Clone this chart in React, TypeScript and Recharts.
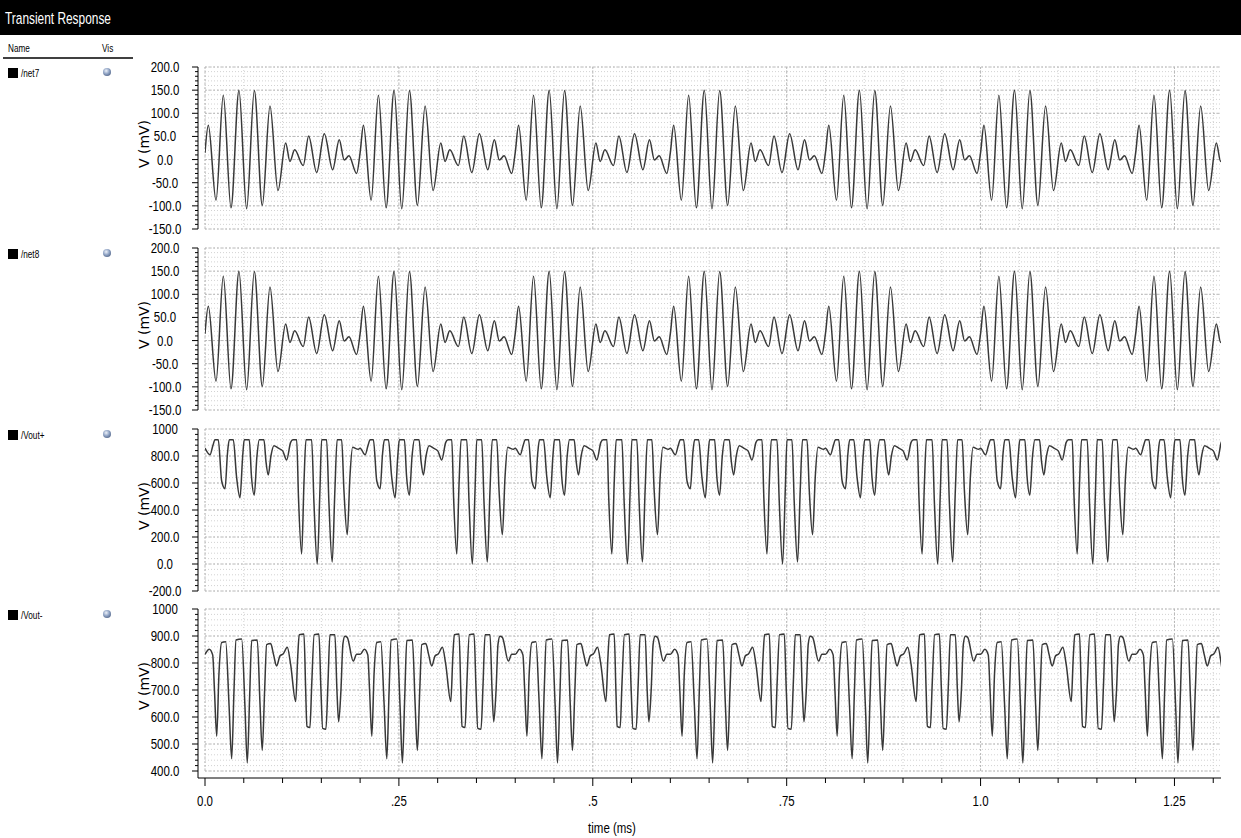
import { CartesianGrid, Line, LineChart, XAxis, YAxis } from 'recharts';

// the traces repeat every 0.2 ms; one period of each is read off the picture
// (offset in ms inside the period, value in mV) and laid down at each start below
const periodStartsMs = [0, 0.2, 0.4, 0.6, 0.8, 1.0, 1.2];

const net7TimeMs = [0, 0.0043, 0.0142, 0.0236, 0.0335, 0.0438, 0.0537, 0.0636, 0.0739, 0.0838, 0.0941, 0.104, 0.1095, 0.1156, 0.1267, 0.1336, 0.144, 0.1538, 0.1646, 0.1731, 0.1795, 0.1856, 0.1955];
const net7Mv = [15, 74, -88, 139, -104, 150, -106, 149, -99, 116, -67, 36, -4, 21, -13, 51, -28, 56, -22, 43, -1, 8, -30];

const net8TimeMs = [0, 0.0043, 0.0142, 0.0236, 0.0335, 0.0438, 0.0537, 0.0636, 0.0739, 0.0838, 0.0941, 0.104, 0.1095, 0.1156, 0.1267, 0.1336, 0.144, 0.1538, 0.1646, 0.1731, 0.1795, 0.1856, 0.1955];
const net8Mv = [15, 74, -88, 139, -104, 150, -106, 149, -99, 116, -67, 36, -4, 21, -13, 51, -28, 56, -22, 43, -1, 8, -30];

const voutPlusTimeMs = [0, 0.0064, 0.0103, 0.0129, 0.0171, 0.0215, 0.0258, 0.029, 0.0313, 0.0365, 0.0406, 0.0451, 0.0486, 0.0506, 0.0571, 0.0599, 0.0635, 0.067, 0.07, 0.076, 0.0786, 0.0816, 0.085, 0.0889, 0.0945, 0.1001, 0.1053, 0.1104, 0.1134, 0.1182, 0.1205, 0.1246, 0.1276, 0.1302, 0.1375, 0.1405, 0.1447, 0.1482, 0.1504, 0.1568, 0.1598, 0.164, 0.1675, 0.1704, 0.1762, 0.1791, 0.1834, 0.1869, 0.1903, 0.1976];
const voutPlusMv = [858, 809, 880, 920, 920, 615, 558, 820, 920, 920, 650, 491, 800, 920, 920, 650, 510, 800, 920, 920, 760, 660, 800, 876, 858, 838, 771, 901, 920, 920, 500, 74, 600, 920, 920, 450, 0, 550, 920, 920, 450, 14, 550, 920, 920, 550, 217, 650, 864, 850];

const voutMinusTimeMs = [0, 0.0055, 0.0099, 0.0122, 0.0151, 0.018, 0.0215, 0.0267, 0.0309, 0.0344, 0.0374, 0.04, 0.0473, 0.0515, 0.0545, 0.0576, 0.0602, 0.0674, 0.0709, 0.0738, 0.0769, 0.0795, 0.0847, 0.0883, 0.0924, 0.0966, 0.1009, 0.1061, 0.1104, 0.1169, 0.1195, 0.1215, 0.1276, 0.1298, 0.1314, 0.1353, 0.1376, 0.1408, 0.1469, 0.1495, 0.1517, 0.1559, 0.1585, 0.1611, 0.1675, 0.1701, 0.1723, 0.1753, 0.1778, 0.1804, 0.1834, 0.1911, 0.1955];
const voutMinusMv = [832, 851, 830, 700, 529, 760, 876, 879, 650, 445, 700, 885, 889, 640, 430, 680, 883, 885, 650, 476, 700, 868, 872, 832, 789, 826, 834, 858, 795, 657, 820, 905, 907, 700, 565, 561, 720, 905, 907, 700, 558, 555, 720, 905, 905, 700, 582, 700, 870, 899, 895, 807, 832];

const timeTicks = [0, 0.25, 0.5, 0.75, 1.0, 1.25];
const timeTickLabels = ['0.0', '.25', '.5', '.75', '1.0', '1.25'];

const netTicks = [-150, -100, -50, 0, 50, 100, 150, 200];
const netTickLabels = ['-150.0', '-100.0', '-50.0', '0.0', '50.0', '100.0', '150.0', '200.0'];
const voutPlusTicks = [-200, 0, 200, 400, 600, 800, 1000];
const voutPlusTickLabels = ['-200.0', '0.0', '200.0', '400.0', '600.0', '800.0', '1000'];
const voutMinusTicks = [400, 500, 600, 700, 800, 900, 1000];
const voutMinusTickLabels = ['400.0', '500.0', '600.0', '700.0', '800.0', '900.0', '1000'];

// no narrow font installed, so squeeze Liberation Sans sideways
const SANS = '"Liberation Sans", Arimo, Arial, sans-serif';
const PLOT_H = 162;
const PAD = 10;
const AXIS_X = 198;
const TRACE = '#383838';

type Row = { t: number; v: number };

function tile(times: number[], values: number[]): Row[] {
  const rows: Row[] = [];
  for (const start of periodStartsMs) {
    times.forEach((t, i) => rows.push({ t: Math.round((start + t) * 10000) / 10000, v: values[i] }));
  }
  return rows;
}

// grid / ruler positions only
function steps(from: number, to: number, n: number) {
  const out: number[] = [];
  const k = Math.round((to - from) / n);
  for (let i = 0; i <= k; i++) out.push(Math.round((from + i * n) * 1000) / 1000);
  return out;
}

const timeMinor = steps(0, 1.3, 0.05);

function NText({
  x,
  y,
  size,
  squeeze = 0.82,
  anchor = 'start',
  fill = '#000',
  children,
}: {
  x: number;
  y: number;
  size: number;
  squeeze?: number;
  anchor?: 'start' | 'middle' | 'end';
  fill?: string;
  children: string;
}) {
  return (
    <text
      transform={`translate(${x} ${y}) scale(${squeeze} 1)`}
      fontSize={size}
      fontFamily={SANS}
      textAnchor={anchor}
      fill={fill}
    >
      {children}
    </text>
  );
}

type PanelProps = {
  rows: Row[];
  top: number;
  ticks: number[];
  labels: string[];
  minorStep: number;
  showTime?: boolean;
};

function Panel({ rows, top, ticks, labels, minorStep, showTime }: PanelProps) {
  const lo = ticks[0];
  const hi = ticks[ticks.length - 1];
  const minor = steps(lo, hi, minorStep);
  const height = showTime ? PAD + PLOT_H + 7 + 60 : PAD + PLOT_H + PAD;
  const axisY = PAD + PLOT_H + 7;

  const voltTick = (p: any) => {
    const i = ticks.indexOf(p.payload.value);
    const major = i >= 0;
    return (
      <g>
        <line x1={AXIS_X - (major ? 6 : 3)} x2={AXIS_X} y1={p.y} y2={p.y} stroke="#000" />
        {major && <NText x={165} y={p.y + 5} size={14} anchor="middle">{labels[i]}</NText>}
      </g>
    );
  };

  const timeTick = (p: any) => {
    const i = timeTicks.findIndex((t) => Math.abs(t - p.payload.value) < 1e-6);
    const major = i >= 0;
    return (
      <g>
        <line x1={p.x} x2={p.x} y1={axisY} y2={axisY + (major ? 8 : 5)} stroke="#000" />
        {major && <NText x={p.x} y={axisY + 28} size={14} anchor="middle">{timeTickLabels[i]}</NText>}
      </g>
    );
  };

  return (
    <div style={{ position: 'absolute', left: 0, top: top - PAD }}>
      <LineChart
        width={1241}
        height={height}
        data={rows}
        margin={{ top: PAD, right: 20, bottom: showTime ? 0 : PAD, left: 0 }}
      >
        <CartesianGrid
          x={205}
          y={PAD}
          width={1016}
          height={PLOT_H}
          horizontalValues={minor}
          verticalValues={timeMinor}
          stroke="#d2d2d2"
          strokeDasharray="1 2"
        />
        <CartesianGrid
          x={205}
          y={PAD}
          width={1016}
          height={PLOT_H}
          horizontalValues={ticks}
          verticalValues={timeTicks}
          stroke="#b8b8b8"
          strokeDasharray="2 2"
        />
        <XAxis
          type="number"
          dataKey="t"
          domain={[0, 1.31]}
          allowDataOverflow
          ticks={timeMinor}
          interval={0}
          padding={{ left: 7, right: 0 }}
          hide={!showTime}
          height={60}
          axisLine={{ stroke: '#000' }}
          tickLine={false}
          tick={timeTick}
        />
        <YAxis
          type="number"
          domain={[lo, hi]}
          allowDataOverflow
          ticks={minor}
          interval={0}
          width={AXIS_X}
          padding={showTime ? { top: 0, bottom: 7 } : { top: 0, bottom: 0 }}
          axisLine={{ stroke: '#000' }}
          tickLine={false}
          tick={voltTick}
        />
        <Line
          type="monotone"
          dataKey="v"
          stroke={TRACE}
          strokeWidth={1.5}
          dot={false}
          isAnimationActive={false}
        />
      </LineChart>
    </div>
  );
}

const panels = [
  { name: '/net7', top: 67, rows: tile(net7TimeMs, net7Mv), ticks: netTicks, labels: netTickLabels, minorStep: 10 },
  { name: '/net8', top: 248, rows: tile(net8TimeMs, net8Mv), ticks: netTicks, labels: netTickLabels, minorStep: 10 },
  { name: '/Vout+', top: 429, rows: tile(voutPlusTimeMs, voutPlusMv), ticks: voutPlusTicks, labels: voutPlusTickLabels, minorStep: 40 },
  { name: '/Vout-', top: 609, rows: tile(voutMinusTimeMs, voutMinusMv), ticks: voutMinusTicks, labels: voutMinusTickLabels, minorStep: 20 },
];

export default function App() {
  return (
    <div style={{ position: 'absolute', left: 0, top: 0, width: 1241, height: 838, background: '#fff', overflow: 'hidden' }}>
      <svg width={1241} height={838} style={{ position: 'absolute', left: 0, top: 0 }}>
        <defs>
          <radialGradient id="vis" cx="40%" cy="35%" r="70%">
            <stop offset="0%" stopColor="#eef2fa" />
            <stop offset="55%" stopColor="#8fa3c4" />
            <stop offset="100%" stopColor="#56698c" />
          </radialGradient>
        </defs>
        <rect x={0} y={0} width={1241} height={35} fill="#000" />
        <NText x={5} y={24} size={17} squeeze={0.7} fill="#fff">Transient Response</NText>
        <NText x={8} y={52} size={10}>Name</NText>
        <NText x={102} y={52} size={10}>Vis</NText>
        <line x1={3} x2={133} y1={58} y2={58} stroke="#000" strokeWidth={1.5} />
        {panels.map((p) => (
          <g key={p.name}>
            <rect x={8} y={p.top + 1} width={10} height={10} fill="#000" />
            <NText x={21} y={p.top + 10} size={10}>{p.name}</NText>
            <circle cx={107} cy={p.top + 5} r={4} fill="url(#vis)" />
            <text
              x={149}
              y={p.top + 77}
              fontSize={14}
              fontFamily="DejaVu Sans, sans-serif"
              textAnchor="middle"
              transform={`rotate(-90 149 ${p.top + 77})`}
            >
              V (mV)
            </text>
          </g>
        ))}
        <NText x={612} y={833} size={14} anchor="middle">time (ms)</NText>
      </svg>
      {panels.map((p, k) => (
        <Panel
          key={p.name}
          rows={p.rows}
          top={p.top}
          ticks={p.ticks}
          labels={p.labels}
          minorStep={p.minorStep}
          showTime={k === panels.length - 1}
        />
      ))}
    </div>
  );
}
